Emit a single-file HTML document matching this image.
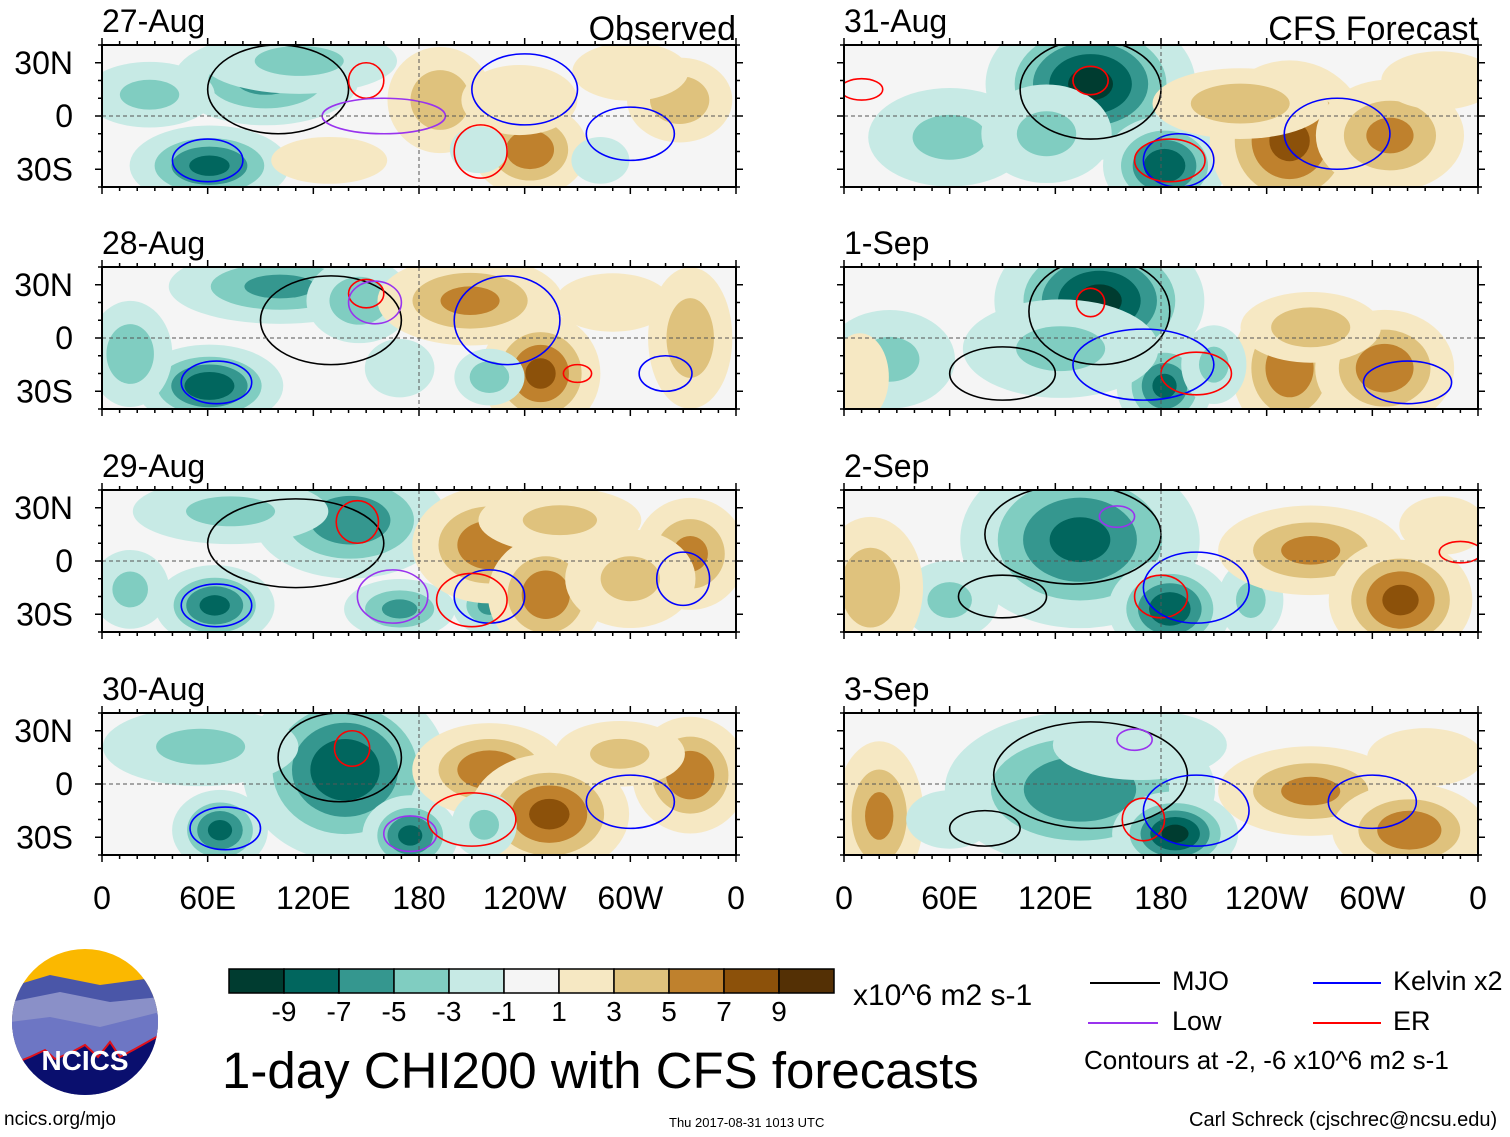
<!DOCTYPE html>
<html><head><meta charset="utf-8">
<style>
body{margin:0;background:#fff;}
svg{display:block;font-family:"Liberation Sans",sans-serif;}
</style></head>
<body>
<svg id="chart" width="1510" height="1137" viewBox="0 0 1510 1137">
<defs id="defs"></defs>
<g id="panels"></g>
<g id="legend"></g>
</svg>
<script>
// ---- data ----
const panelDates = ["27-Aug","28-Aug","29-Aug","30-Aug","31-Aug","1-Sep","2-Sep","3-Sep"];
const latTicks = [30, 0, -30];
const latTickLabels = ["30N","0","30S"];
const lonTicks = [0, 60, 120, 180, 240, 300, 360];
const lonTickLabels = ["0","60E","120E","180","120W","60W","0"];
const levels = [-11,-9,-7,-5,-3,-1,1,3,5,7,9,11];
const levelLabels = ["-9","-7","-5","-3","-1","1","3","5","7","9"];
const colors = ["#003c30","#01665e","#35978f","#80cdc1","#c7eae5","#f5f5f5","#f6e8c3","#dfc27d","#bf812d","#8c510a","#543005"];
// anomaly blobs: [lon, lat, value, radiusLon, radiusLat]
const blobs = [
 [[61,-28,-8,20,10],[93,20,-6,25,12],[112,31,-4,30,10],[27,12,-4,20,10],[192,9,5,15,15],[243,-19,7,15,12],[237,9,3,20,12],[328,9,5,15,12],[129,-25,3,20,8],[214,-19,-3,10,8],[283,-25,-3,10,8],[300,25,3,20,10]],
 [[61,-27,-9,18,10],[101,29,-6,30,10],[146,21,-5,15,12],[16,-9,-5,12,15],[209,21,6,25,12],[249,-20,8,15,15],[334,0,5,12,20],[220,-22,-5,10,8],[169,-17,-3,12,10],[290,20,3,20,10]],
 [[141,23,-7,25,15],[73,28,-4,30,10],[64,-25,-8,15,10],[169,-27,-6,15,8],[220,-25,-6,10,8],[220,9,7,20,15],[252,-19,7,15,15],[334,4,6,15,15],[260,23,4,25,10],[16,-16,-4,12,12],[300,-10,4,20,15]],
 [[138,8,-9,25,22],[67,-26,-8,12,10],[175,-29,-8,12,10],[56,21,-4,30,12],[220,8,7,20,12],[254,-17,8,20,15],[334,5,7,15,15],[294,17,4,20,10],[217,-23,-4,10,10]],
 [[140,18,-10,25,18],[182,-28,-9,15,12],[60,-12,-4,25,15],[253,-14,8,20,20],[310,-11,6,20,15],[225,7,5,25,10],[338,20,3,20,10],[115,-10,-4,20,15]],
 [[145,21,-10,25,18],[182,-27,-8,12,12],[123,-6,-4,30,15],[26,-12,-4,20,15],[253,-17,7,15,18],[307,-17,7,18,15],[265,6,5,20,10],[9,-22,3,10,15],[210,-15,-4,10,12]],
 [[134,12,-8,30,22],[185,-27,-9,15,12],[231,-22,-4,10,12],[60,-22,-4,15,12],[265,6,6,25,12],[316,-22,8,18,15],[15,-15,5,15,20],[340,20,3,15,10]],
 [[134,-3,-7,35,20],[188,-28,-10,15,10],[168,22,-3,30,12],[20,-18,6,12,20],[265,-4,6,25,12],[321,-26,7,20,12],[60,-20,-3,15,10],[330,15,3,20,10]]
];
// contours: [kind, lon, lat, radiusLon, radiusLat]
const contours = [
 [["mjo",100,15,40,25],["kelvin",60,-25,20,12],["kelvin",240,15,30,20],["er",150,20,10,10],["er",215,-20,15,15],["low",160,0,35,10],["kelvin",300,-10,25,15]],
 [["mjo",130,10,40,25],["kelvin",65,-25,20,12],["er",150,25,10,8],["low",155,20,15,12],["kelvin",230,10,30,25],["er",270,-20,8,5],["kelvin",320,-20,15,10]],
 [["mjo",110,10,50,25],["er",145,22,12,12],["kelvin",65,-25,20,12],["kelvin",220,-20,20,15],["er",210,-22,20,15],["low",165,-20,20,15],["kelvin",330,-10,15,15]],
 [["mjo",135,15,35,25],["er",142,20,10,10],["kelvin",70,-25,20,12],["low",175,-28,15,10],["er",210,-20,25,15],["kelvin",300,-10,25,15]],
 [["mjo",140,15,40,28],["er",140,20,10,8],["kelvin",190,-25,20,15],["er",185,-25,20,12],["kelvin",280,-10,30,20],["er",10,15,12,6]],
 [["mjo",145,15,40,30],["er",140,20,8,8],["kelvin",170,-15,40,20],["mjo",90,-20,30,15],["er",200,-20,20,12],["kelvin",320,-25,25,12]],
 [["mjo",130,15,50,28],["low",155,25,10,6],["er",180,-20,15,12],["kelvin",200,-15,30,20],["mjo",90,-20,25,12],["er",350,5,12,6]],
 [["mjo",140,5,55,30],["low",165,25,10,6],["er",170,-20,12,12],["kelvin",200,-15,30,20],["mjo",80,-25,20,10],["kelvin",300,-10,25,15]]
];
// ---- layout ----
const colX = [102, 844], rowY = [45, 267, 490, 713], PW = 634, PH = 142;
const NS = "http://www.w3.org/2000/svg";
function mk(tag, attrs, parent){const e=document.createElementNS(NS,tag);for(const k in attrs)e.setAttribute(k,attrs[k]);if(parent)parent.appendChild(e);return e;}
function colorFor(v){for(let i=0;i<colors.length;i++){if(v<levels[i+1])return colors[i];}return colors[colors.length-1];}
const kindColor={mjo:"#000",kelvin:"#0000ff",low:"#9933ee",er:"#ff0000"};
const root=document.getElementById("panels"), defs=document.getElementById("defs");
panelDates.forEach((d,p)=>{
  const x0=colX[Math.floor(p/4)], y0=rowY[p%4];
  const xs=lon=>x0+lon/360*PW, ys=lat=>y0+(40-lat)/80*PH;
  const cp=mk("clipPath",{id:"cp"+p},defs); mk("rect",{x:x0,y:y0,width:PW,height:PH},cp);
  const g=mk("g",{},root);
  
  
  const f=mk("g",{"clip-path":"url(#cp"+p+")"},g);
  mk("rect",{x:x0,y:y0,width:PW,height:PH,fill:"#f5f5f5"},f);
  blobs[p].forEach(b=>{
    const [lon,lat,v,rl,rt]=b, a=Math.abs(v), s=Math.sign(v);
    for(let L=1;L<a;L+=2){
      const k=Math.sqrt(2*Math.log(a/L))/0.9;
      const e=mk("ellipse",{cx:xs(lon),cy:ys(lat),rx:rl/360*PW*k,ry:rt/80*PH*k,fill:colorFor(s*(L+1))},f);
      
      
    }
  });
  contours[p].forEach(c=>{
    const [kind,lon,lat,rl,rt]=c;
    const e=mk("ellipse",{cx:xs(lon),cy:ys(lat),rx:rl/360*PW,ry:rt/80*PH,fill:"none",stroke:kindColor[kind],"stroke-width":1.6},f);
    
    
  });
  mk("line",{x1:x0,x2:x0+PW,y1:ys(0),y2:ys(0),stroke:"#555","stroke-dasharray":"4,3","stroke-width":1},f);
  mk("line",{x1:xs(180),x2:xs(180),y1:y0,y2:y0+PH,stroke:"#555","stroke-dasharray":"4,3","stroke-width":1},f);
  mk("rect",{x:x0,y:y0,width:PW,height:PH,fill:"none",stroke:"#000","stroke-width":2},g);
  for(let lon=0;lon<=360;lon+=10){const L=lon%60===0?7:4;
    mk("line",{x1:xs(lon),x2:xs(lon),y1:y0,y2:y0-L,stroke:"#000","stroke-width":1.5},g);
    mk("line",{x1:xs(lon),x2:xs(lon),y1:y0+PH,y2:y0+PH+L,stroke:"#000","stroke-width":1.5},g);}
  for(let lat=-40;lat<=40;lat+=10){const L=lat%30===0?7:4;
    mk("line",{x1:x0,x2:x0-L,y1:ys(lat),y2:ys(lat),stroke:"#000","stroke-width":1.5},g);
    mk("line",{x1:x0+PW,x2:x0+PW+L,y1:ys(lat),y2:ys(lat),stroke:"#000","stroke-width":1.5},g);}
  const t=mk("text",{x:x0,y:y0-13,"font-size":32},g); t.textContent=d;
  
  
  if(p%4===0){const s=mk("text",{x:x0+PW,y:y0-5,"font-size":34,"text-anchor":"end"},g);s.textContent=p===0?"Observed":"CFS Forecast";
    
    }
  if(p<4){latTicks.forEach((lat,i)=>{const l=mk("text",{x:73,y:ys(lat)+11,"font-size":32,"text-anchor":"end"},g);l.textContent=latTickLabels[i];
    
    });}
  if(p%4===3){lonTicks.forEach((lon,i)=>{const l=mk("text",{x:xs(lon),y:909,"font-size":32,"text-anchor":"middle"},g);l.textContent=lonTickLabels[i];
    
    });}
});
// colorbar
const lg=document.getElementById("legend");
colors.forEach((c,i)=>{const r=mk("rect",{x:229+i*55,y:969,width:55,height:24,fill:c,stroke:"#000","stroke-width":1.5},lg);
  
  });
levelLabels.forEach((s,i)=>{const t=mk("text",{x:284+i*55,y:1021,"font-size":28,"text-anchor":"middle"},lg);t.textContent=s;
  
  });
</script>
<div style="position:absolute;left:0;top:0;width:1510px;height:1137px;pointer-events:none;font-family:'Liberation Sans',sans-serif;">
  <div style="position:absolute;left:853px;top:979px;font-size:30px;">x10^6 m2 s-1</div>
  <div style="position:absolute;left:222px;top:1041px;font-size:51px;">1-day CHI200 with CFS forecasts</div>
  <div style="position:absolute;left:1090px;top:966px;font-size:27px;"><span style="display:inline-block;width:70px;height:2px;background:#000;vertical-align:middle;margin-right:12px"></span>MJO</div>
  <div style="position:absolute;left:1313px;top:966px;font-size:27px;"><span style="display:inline-block;width:68px;height:2px;background:#0000ff;vertical-align:middle;margin-right:12px"></span>Kelvin x2</div>
  <div style="position:absolute;left:1088px;top:1006px;font-size:27px;"><span style="display:inline-block;width:70px;height:2px;background:#9933ee;vertical-align:middle;margin-right:14px"></span>Low</div>
  <div style="position:absolute;left:1313px;top:1006px;font-size:27px;"><span style="display:inline-block;width:68px;height:2px;background:#ff0000;vertical-align:middle;margin-right:12px"></span>ER</div>
  <div style="position:absolute;left:1084px;top:1045px;font-size:26px;">Contours at -2, -6 x10^6 m2 s-1</div>
  <div style="position:absolute;left:4px;top:1109px;font-size:19px;">ncics.org/mjo</div>
  <div style="position:absolute;left:669px;top:1115px;font-size:13px;">Thu 2017-08-31 1013 UTC</div>
  <div style="position:absolute;left:1189px;top:1109px;font-size:20px;">Carl Schreck (cjschrec@ncsu.edu)</div>
  <svg style="position:absolute;left:10px;top:947px" width="150" height="150" viewBox="0 0 150 150">
    <defs><clipPath id="lc"><circle cx="75" cy="75" r="73"/></clipPath></defs>
    <g clip-path="url(#lc)">
      <rect width="150" height="150" fill="#fbb800"/>
      <path d="M0 40 L40 28 L90 38 L150 30 L150 150 L0 150Z" fill="#4a56a8"/>
      <path d="M0 55 L50 45 L100 55 L150 50 L150 150 L0 150Z" fill="#8a90c8"/>
      <path d="M0 75 L40 70 L90 80 L150 65 L150 150 L0 150Z" fill="#6d76c4"/>
      <path d="M0 118 L20 110 L35 103 L45 112 L60 106 L75 98 L88 110 L100 95 L110 110 L125 102 L150 88 L150 150 L0 150Z" fill="#0a0f6e" stroke="#e0101a" stroke-width="2"/>
      <text x="75" y="123" font-size="28" font-weight="bold" fill="#fff" text-anchor="middle">NCICS</text>
    </g>
  </svg>
</div>
</body></html>
